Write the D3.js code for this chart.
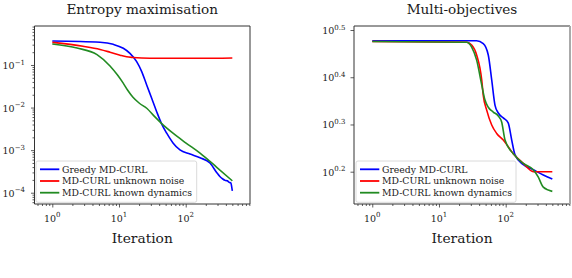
<!DOCTYPE html>
<html><head><meta charset="utf-8">
<script src="https://cdn.jsdelivr.net/npm/d3@7"></script>
<style>
body{margin:0;background:#fff}
svg{display:block}
text{font-family:"DejaVu Serif","Liberation Serif",serif;fill:#1a1a1a}
</style>
</head><body>
<svg id="c" width="572" height="278"></svg>
<script>
// ---------- data ----------
const seriesNames = ["Greedy MD-CURL", "MD-CURL unknown noise", "MD-CURL known dynamics"];
const seriesColors = ["#0000ff", "#ff0000", "#228b22"];

// Entropy maximisation
const entGreedyIter = [1, 5.2, 8.2, 11.6, 14.6, 18.4, 21.9, 26, 30.9, 36.7, 43.7, 51.9, 64.5, 82, 116, 164, 231, 295, 325, 360, 390, 420, 450, 475, 490, 500];
const entGreedy     = [0.365, 0.341, 0.306, 0.247, 0.188, 0.12, 0.07, 0.034, 0.0165, 0.008, 0.0041, 0.0025, 0.00148, 0.00101, 0.00081, 0.00066, 0.0005, 0.00029, 0.00024, 0.00021, 0.000195, 0.00019, 0.000175, 0.00017, 0.000135, 0.00011];
const entNoiseIter  = [1, 2.88, 5.2, 7.33, 10.4, 13, 16.2, 29, 164, 500];
const entNoise      = [0.34, 0.275, 0.232, 0.2, 0.17, 0.156, 0.15, 0.1435, 0.1435, 0.146];
const entKnownIter  = [1, 2.35, 4.68, 7.33, 9.5, 11.5, 13.5, 16.2, 20, 26.3, 34, 43.7, 64.5, 100, 164, 295, 500];
const entKnown      = [0.31, 0.25, 0.175, 0.095, 0.058, 0.038, 0.0255, 0.0175, 0.0128, 0.0095, 0.0062, 0.0042, 0.0025, 0.00149, 0.00085, 0.00039, 0.00019];

// Multi-objectives
const multiGreedyIter = [1, 36.7, 46.1, 54.8, 61.7, 69.2, 77.5, 92, 109, 123, 138, 184, 259, 366, 500];
const multiGreedy     = [3.0, 3.0, 2.96, 2.80, 2.48, 2.19, 2.11, 2.06, 2.01, 1.85, 1.72, 1.64, 1.60, 1.56, 1.53];
const multiNoiseIter  = [1, 26, 30.9, 36.7, 43.7, 46.1, 51.9, 61.7, 73.3, 92, 130, 184, 259, 366, 500];
const multiNoise      = [2.99, 2.98, 2.94, 2.80, 2.48, 2.30, 2.14, 1.99, 1.91, 1.85, 1.73, 1.65, 1.585, 1.585, 1.585];
const multiKnownIter  = [1, 26, 30.9, 36.7, 43.7, 48.8, 54.8, 65, 77.5, 87, 97.7, 130, 184, 259, 307, 366, 500];
const multiKnown      = [2.99, 2.98, 2.91, 2.73, 2.42, 2.25, 2.17, 2.12, 2.08, 2.02, 1.85, 1.73, 1.65, 1.60, 1.545, 1.47, 1.44];

// tick labels
const xTickValues = [1, 10, 100];
const xTickExps = ["0", "1", "2"];
const entYTickValues = [1e-1, 1e-2, 1e-3, 1e-4];
const entYTickExps = ["\u22121", "\u22122", "\u22123", "\u22124"];
const multiYTickExpValues = [0.2, 0.3, 0.4, 0.5];
const multiYTickExps = ["0.2", "0.3", "0.4", "0.5"];

// ---------- drawing ----------
const svg = d3.select("#c");

function supLabel(g, x, y, base, exp, anchor) {
  const t = g.append("text").attr("x", x).attr("y", y).attr("text-anchor", anchor)
    .style("font-size", "9.5px");
  t.append("tspan").text(base);
  t.append("tspan").attr("dy", -4.3).style("font-size", "7px").text(exp);
  return t;
}

function panel(cfg) {
  const g = svg.append("g");
  const x = d3.scaleLog().domain(cfg.xDomain).range([cfg.x0, cfg.x1]);
  const y = d3.scaleLog().domain(cfg.yDomain).range([cfg.y1, cfg.y0]);
  const line = d3.line().x(d => x(d[0])).y(d => y(d[1])).curve(d3.curveMonotoneX);

  const clipId = "clip" + cfg.id;
  g.append("clipPath").attr("id", clipId).append("rect")
    .attr("x", cfg.x0).attr("y", cfg.y0).attr("width", cfg.x1 - cfg.x0).attr("height", cfg.y1 - cfg.y0);

  const lg = g.append("g").attr("clip-path", `url(#${clipId})`);
  cfg.series.forEach((s, i) => {
    lg.append("path").datum(d3.zip(s.iter, s.values)).attr("d", line)
      .attr("fill", "none").attr("stroke", seriesColors[i]).attr("stroke-width", 1.6)
      .attr("stroke-linejoin", "round");
  });

  // x ticks
  const [xa, xb] = x.domain();
  const xMinor = [];
  for (let e = Math.floor(Math.log10(xa)); e <= Math.ceil(Math.log10(xb)); e++)
    for (let k = 2; k <= 9; k++) { const v = k * Math.pow(10, e); if (v >= xa && v <= xb) xMinor.push(v); }
  const xaxMinor = g.append("g").attr("transform", `translate(0,${cfg.y1})`)
    .call(d3.axisBottom(x).tickValues(xMinor).tickSize(2).tickFormat(""));
  const xaxMajor = g.append("g").attr("transform", `translate(0,${cfg.y1})`)
    .call(d3.axisBottom(x).tickValues(xTickValues).tickSize(3.5).tickFormat(""));
  [xaxMinor, xaxMajor].forEach(a => { a.select(".domain").remove(); a.selectAll("line").attr("stroke", "#333").attr("stroke-width", 0.8); });
  xTickValues.forEach((v, i) => supLabel(g, x(v), cfg.y1 + 17.5, "10", xTickExps[i], "middle"));

  // y ticks
  const ya = g.append("g").attr("transform", `translate(${cfg.x0},0)`);
  if (cfg.yMinor) {
    const [ya0, yb0] = y.domain();
    const yMinor = [];
    for (let e = Math.floor(Math.log10(ya0)); e <= Math.ceil(Math.log10(yb0)); e++)
      for (let k = 2; k <= 9; k++) { const v = k * Math.pow(10, e); if (v >= ya0 && v <= yb0) yMinor.push(v); }
    const ym = g.append("g").attr("transform", `translate(${cfg.x0},0)`)
      .call(d3.axisLeft(y).tickValues(yMinor).tickSize(2).tickFormat(""));
    ym.select(".domain").remove(); ym.selectAll("line").attr("stroke", "#333").attr("stroke-width", 0.8);
  }
  ya.call(d3.axisLeft(y).tickValues(cfg.yTicks).tickSize(3.5).tickFormat(""));
  ya.select(".domain").remove(); ya.selectAll("line").attr("stroke", "#333").attr("stroke-width", 0.8);
  cfg.yTicks.forEach((v, i) => supLabel(g, cfg.yLabelX, y(v) + 4, "10", cfg.yExps[i], "end"));

  // frame
  const fr = g.append("g").attr("fill", "none").attr("stroke-width", 1);
  fr.append("path").attr("d", `M${cfg.x1},${cfg.y0}H${cfg.x0}V${cfg.y1}H${cfg.x1}`).attr("stroke", "#333");
  fr.append("path").attr("d", `M${cfg.x1},${cfg.y0}V${cfg.y1}`).attr("stroke", cfg.rightSpine || "#333")
    .attr("stroke-width", cfg.rightSpineWidth || 1);

  // title & xlabel
  const cx = (cfg.x0 + cfg.x1) / 2;
  g.append("text").attr("x", cx).attr("y", 13.5).attr("text-anchor", "middle").style("font-size", "13.6px").text(cfg.title);
  g.append("text").attr("x", cx).attr("y", 242.5).attr("text-anchor", "middle").style("font-size", "13.8px").text("Iteration");

  // legend
  const L = cfg.legend;
  g.append("rect").attr("x", L.x).attr("y", L.y).attr("width", L.w).attr("height", L.h).attr("rx", 2)
    .attr("fill", "#fff").attr("fill-opacity", 0.85).attr("stroke", "#d0d0d0").attr("stroke-width", 0.8);
  seriesNames.forEach((n, i) => {
    const ry = L.y + 8.3 + i * 11.7;
    g.append("line").attr("x1", L.x + 4).attr("x2", L.x + 23.3).attr("y1", ry).attr("y2", ry)
      .attr("stroke", seriesColors[i]).attr("stroke-width", 1.8);
    g.append("text").attr("x", L.x + 26).attr("y", ry + 3.3).style("font-size", "9.3px").text(n);
  });
}

panel({
  id: "a", title: "Entropy maximisation",
  x0: 34.5, x1: 250, y0: 26, y1: 204,
  xDomain: [Math.pow(10, -0.267), Math.pow(10, 2.964)],
  yDomain: [Math.pow(10, -4.265), Math.pow(10, -0.084)],
  yTicks: entYTickValues, yExps: entYTickExps, yMinor: true, yLabelX: 25,
  series: [
    { iter: entGreedyIter, values: entGreedy },
    { iter: entNoiseIter, values: entNoise },
    { iter: entKnownIter, values: entKnown }
  ],
  legend: { x: 36, y: 161, w: 160.7, h: 41.3 }
});

panel({
  id: "b", title: "Multi-objectives",
  x0: 354, x1: 570, y0: 26, y1: 204,
  xDomain: [Math.pow(10, -0.274), Math.pow(10, 2.964)],
  yDomain: [Math.pow(10, 0.1316), Math.pow(10, 0.5085)],
  yTicks: multiYTickExpValues.map(e => Math.pow(10, e)), yExps: multiYTickExps, yMinor: false, yLabelX: 345.5,
  rightSpine: "#aaaaaa", rightSpineWidth: 2,
  series: [
    { iter: multiGreedyIter, values: multiGreedy },
    { iter: multiNoiseIter, values: multiNoise },
    { iter: multiKnownIter, values: multiKnown }
  ],
  legend: { x: 356, y: 161, w: 160, h: 41.3 }
});
</script>
</body></html>
